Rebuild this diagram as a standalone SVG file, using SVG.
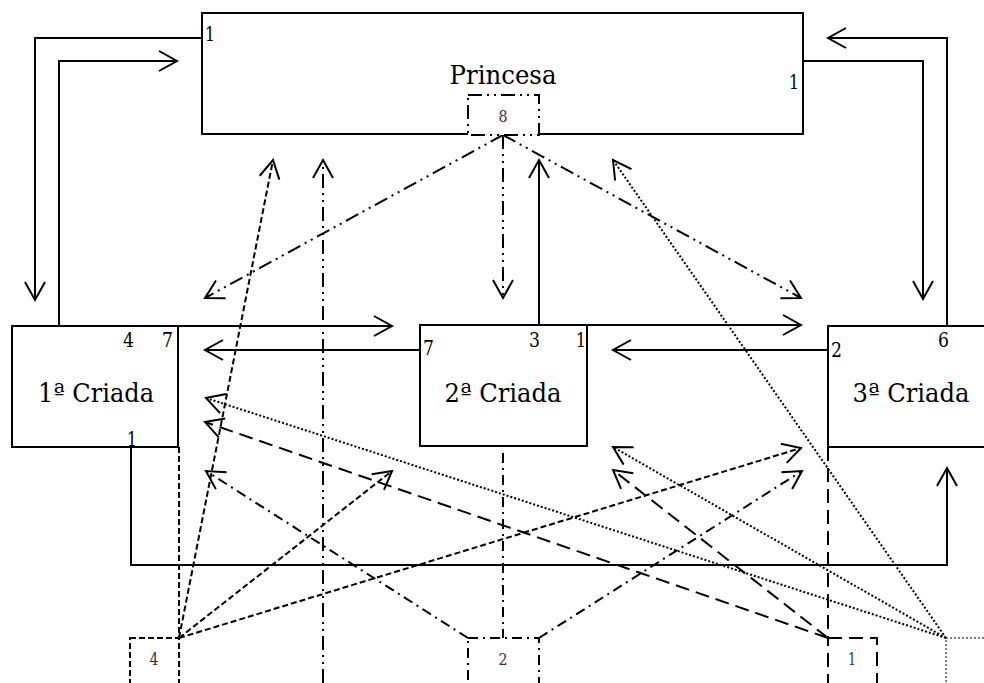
<svg xmlns="http://www.w3.org/2000/svg" width="984" height="683" viewBox="0 0 984 683">
<style>
text{font-family:'DejaVu Serif','Liberation Serif',serif}
.big{font-size:26px;fill:#000;text-anchor:middle}
.num{font-size:21px;fill:#000}
.sm{font-size:17px;fill:#333;text-anchor:middle}
.box{fill:#fff;stroke:#000;stroke-width:2}
.c{fill:none;stroke:#000;stroke-width:2}
.ddd{stroke-dasharray:14 5 2 5 2 5}
.sd{stroke-dasharray:6 3}
.dd{stroke-dasharray:10 5 2 5}
.ld{stroke-dasharray:14 7}
.dot{stroke-dasharray:2 2}
.thin{stroke-width:1;stroke-dasharray:2 2}
</style>
<defs>
<marker id="arr" markerUnits="userSpaceOnUse" viewBox="-22 -13 24 26" markerWidth="24" markerHeight="26" refX="0" refY="0" orient="auto" overflow="visible">
<path d="M-18,-10 L0,0 L-18,10" fill="none" stroke="#000" stroke-width="2"/>
</marker>
</defs>

<g id="princesa">
<rect class="box" x="202" y="13" width="601" height="121"/>
<text class="big" x="503" y="84" textLength="107" lengthAdjust="spacingAndGlyphs">Princesa</text>
<text class="num" x="205" y="41" textLength="10" lengthAdjust="spacingAndGlyphs">1</text>
<text class="num" x="789" y="89" textLength="10" lengthAdjust="spacingAndGlyphs">1</text>
</g>

<g id="criada1">
<rect class="box" x="12" y="326" width="166" height="121"/>
<text class="big" x="96" y="402" textLength="116" lengthAdjust="spacingAndGlyphs">1ª Criada</text>
<text class="num" x="123" y="347" textLength="11" lengthAdjust="spacingAndGlyphs">4</text>
<text class="num" x="162" y="347" textLength="11" lengthAdjust="spacingAndGlyphs">7</text>
<text class="num" x="127" y="446" textLength="10" lengthAdjust="spacingAndGlyphs">1</text>
</g>

<g id="criada2">
<rect class="box" x="420" y="325" width="167" height="121"/>
<text class="big" x="503" y="402" textLength="117" lengthAdjust="spacingAndGlyphs">2ª Criada</text>
<text class="num" x="423" y="355" textLength="11" lengthAdjust="spacingAndGlyphs">7</text>
<text class="num" x="529" y="347" textLength="11" lengthAdjust="spacingAndGlyphs">3</text>
<text class="num" x="576" y="347" textLength="10" lengthAdjust="spacingAndGlyphs">1</text>
</g>

<g id="criada3">
<rect class="box" x="828" y="326" width="166" height="121"/>
<text class="big" x="911" y="402" textLength="117" lengthAdjust="spacingAndGlyphs">3ª Criada</text>
<text class="num" x="831" y="357" textLength="11" lengthAdjust="spacingAndGlyphs">2</text>
<text class="num" x="938" y="347" textLength="11" lengthAdjust="spacingAndGlyphs">6</text>
</g>

<g id="connectors">
<polyline class="c" points="202,38 35,38 35,300" marker-end="url(#arr)"/>
<polyline class="c" points="59,326 59,61 177,61" marker-end="url(#arr)"/>
<polyline class="c" points="803,61 923,61 923,299" marker-end="url(#arr)"/>
<polyline class="c" points="947,326 947,38 828,38" marker-end="url(#arr)"/>
<line class="c" x1="178" y1="326" x2="392" y2="326" marker-end="url(#arr)"/>
<line class="c" x1="420" y1="350" x2="205" y2="350" marker-end="url(#arr)"/>
<line class="c" x1="539" y1="325" x2="539" y2="160" marker-end="url(#arr)"/>
<line class="c" x1="587" y1="325" x2="801" y2="325" marker-end="url(#arr)"/>
<line class="c" x1="828" y1="350" x2="613" y2="350" marker-end="url(#arr)"/>
<polyline class="c" points="131,447 131,565 947,565 947,468" marker-end="url(#arr)"/>

<line class="c ddd" x1="503" y1="135" x2="205" y2="298" marker-end="url(#arr)"/>
<line class="c ddd" x1="503" y1="135" x2="503" y2="298" marker-end="url(#arr)"/>
<line class="c ddd" x1="503" y1="135" x2="801" y2="298" marker-end="url(#arr)"/>
<line class="c ddd" x1="323" y1="683" x2="323" y2="160" marker-end="url(#arr)"/>

<line class="c sd" x1="179" y1="638" x2="273" y2="160" marker-end="url(#arr)"/>
<line class="c sd" x1="179" y1="638" x2="392" y2="471" marker-end="url(#arr)"/>
<line class="c sd" x1="179" y1="638" x2="801" y2="448" marker-end="url(#arr)"/>
<line class="c sd" x1="179" y1="447" x2="179" y2="638"/>

<line class="c dd" x1="468" y1="638" x2="206" y2="471" marker-end="url(#arr)"/>
<line class="c dd" x1="539" y1="638" x2="802" y2="471" marker-end="url(#arr)"/>
<line class="c dd" x1="503" y1="453" x2="503" y2="638"/>

<line class="c ld" x1="828" y1="638" x2="205" y2="422" marker-end="url(#arr)"/>
<line class="c ld" x1="828" y1="638" x2="613" y2="470" marker-end="url(#arr)"/>
<line class="c ld" x1="828" y1="447" x2="828" y2="638"/>

<line class="c dot" x1="946" y1="638" x2="613" y2="160" marker-end="url(#arr)"/>
<line class="c dot" x1="946" y1="638" x2="206" y2="398" marker-end="url(#arr)"/>
<line class="c dot" x1="946" y1="638" x2="613" y2="447" marker-end="url(#arr)"/>
</g>

<g id="n8">
<rect class="c ddd" x="468" y="95" width="71" height="40" style="fill:#fff"/>
<text class="sm" x="503" y="122" textLength="9" lengthAdjust="spacingAndGlyphs">8</text>
</g>
<g id="n4">
<rect class="c sd" x="130" y="638" width="49" height="60"/>
<text class="sm" x="154" y="665" textLength="9" lengthAdjust="spacingAndGlyphs">4</text>
</g>
<g id="n2">
<rect class="c dd" x="468" y="638" width="71" height="60"/>
<text class="sm" x="503" y="665" textLength="9" lengthAdjust="spacingAndGlyphs">2</text>
</g>
<g id="n1">
<rect class="c ld" x="828" y="638" width="49" height="60"/>
<text class="sm" x="852" y="665" textLength="8" lengthAdjust="spacingAndGlyphs">1</text>
</g>
<g id="ndot">
<rect class="c thin" x="946" y="638" width="60" height="60"/>
</g>
</svg>
